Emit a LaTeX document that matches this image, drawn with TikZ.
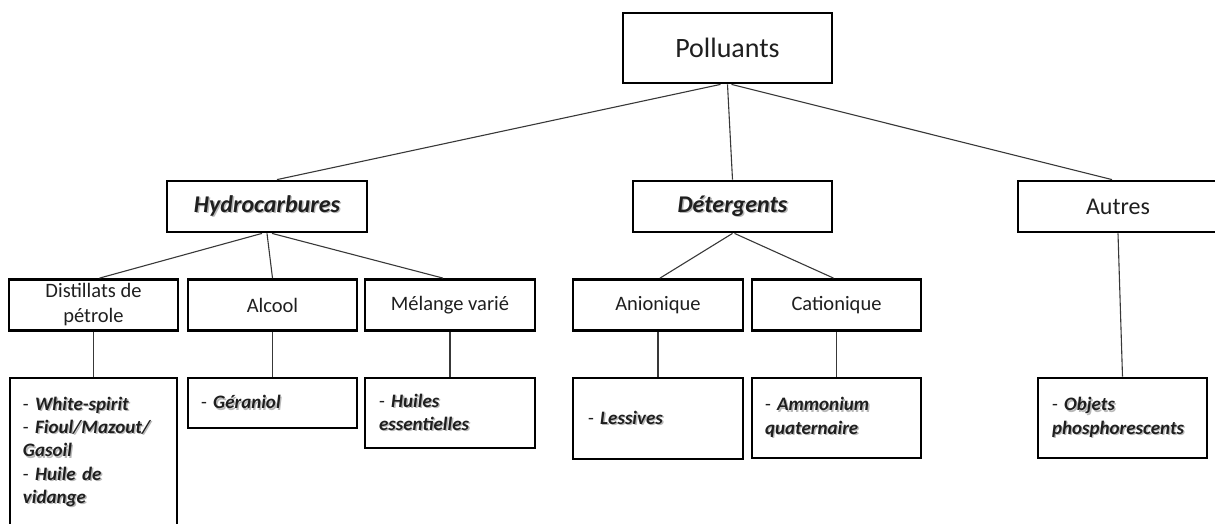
\documentclass[tikz,border=0pt]{standalone}
\usepackage{fontspec}
\setmainfont{Carlito}
\newcommand\shd[1]{\leavevmode\rlap{\textcolor{black!28}{\kern1.4pt\raisebox{-1.4pt}{#1}}}#1}
\newcommand\bistr[1]{{\bfseries\itshape\shd{#1}}}
\begin{document}
\begin{tikzpicture}[x=1pt,y=-1pt,
  box/.style={draw=black, line width=2.8pt, fill=white, inner sep=0pt, align=center, text=black!88},
  toptxt/.style={font=\fontsize{28}{34}\selectfont},
  lvlone/.style={font=\fontsize{24}{29}\selectfont},
  lvltwo/.style={font=\fontsize{20.5}{25}\selectfont},
  leaf/.style={box, align=left, font=\fontsize{19}{23.3}\selectfont},
  wire/.style={line width=1.1pt, draw=black!78}
]
\useasboundingbox (0,0) rectangle (1215,523);
\clip (0,0) rectangle (1215,523);

% top level
\node[box, toptxt, minimum width=209, minimum height=70] (pol) at (727.5,48) {Polluants};

% level one
\node[box, lvlone, minimum width=200, minimum height=51] (hyd) at (267,206.5) {\bistr{Hydrocarbures}};
\node[box, lvlone, minimum width=199, minimum height=51] (det) at (732.5,206.5) {\bistr{Détergents}};
\node[box, lvlone, minimum width=200, minimum height=51] (aut) at (1118,206.5) {Autres};

% level two
\node[box, lvltwo, minimum width=169, minimum height=51] (dis) at (93.5,305) {Distillats de\\pétrole};
\node[box, lvltwo, minimum width=169, minimum height=51] (alc) at (272.5,305) {Alcool};
\node[box, lvltwo, minimum width=170, minimum height=51] (mel) at (450,305) {Mélange varié};
\node[box, lvltwo, minimum width=170, minimum height=51] (ani) at (658,305) {Anionique};
\node[box, lvltwo, minimum width=169, minimum height=51] (cat) at (836.5,305) {Cationique};

% leaves
\node[leaf, minimum width=167, minimum height=149, text width=141] (dle) at (93.5,452.5)
  {- \bistr{White-spirit}\\- \bistr{Fioul/Mazout/}\\\bistr{Gasoil}\\- \bistr{Huile de}\\\bistr{vidange}};
\node[leaf, minimum width=169, minimum height=50, text width=143] (ger) at (272.5,403)
  {- \bistr{Géraniol}};
\node[leaf, minimum width=170, minimum height=70, text width=142] (hui) at (450,413)
  {- \bistr{Huiles}\\\bistr{essentielles}};
\node[leaf, minimum width=170, minimum height=81, text width=140] (les) at (658,418.5)
  {- \bistr{Lessives}};
\node[leaf, minimum width=169, minimum height=80, text width=143] (amm) at (836.5,418)
  {- \bistr{Ammonium}\\\bistr{quaternaire}};
\node[leaf, minimum width=169, minimum height=80, text width=141] (obj) at (1122.5,418)
  {- \bistr{Objets}\\\bistr{phosphorescents}};

% connectors
\draw[wire] ([xshift=-7]pol.south) -- ([xshift=10]hyd.north);
\draw[wire] (pol.south) -- (det.north);
\draw[wire] ([xshift=4]pol.south) -- ([xshift=-6]aut.north);

\draw[wire] ([xshift=-5]hyd.south) -- ([xshift=6]dis.north);
\draw[wire] (hyd.south) -- (alc.north);
\draw[wire] ([xshift=5]hyd.south) -- ([xshift=-7]mel.north);

\draw[wire] (det.south) -- ([xshift=2]ani.north);
\draw[wire] ([xshift=2]det.south) -- ([xshift=-3]cat.north);

\draw[wire] (dis.south) -- (dle.north);
\draw[wire] (alc.south) -- (ger.north);
\draw[wire] (mel.south) -- (hui.north);
\draw[wire] (ani.south) -- (les.north);
\draw[wire] (cat.south) -- (amm.north);
\draw[wire] (aut.south) -- (obj.north);
\end{tikzpicture}
\end{document}
